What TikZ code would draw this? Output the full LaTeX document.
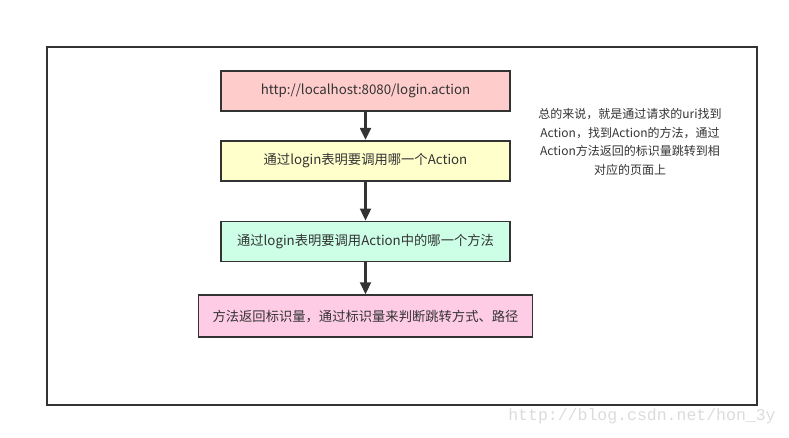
\documentclass[tikz,border=0pt]{standalone}
\usepackage{fontspec}
\setmainfont{Noto Sans CJK SC}
\newfontfamily\markfont{Liberation Mono}
\usetikzlibrary{arrows.meta, positioning}
\definecolor{framegray}{RGB}{51, 51, 51}
\definecolor{urlpink}{RGB}{255, 204, 204}
\definecolor{actionyellow}{RGB}{255, 255, 204}
\definecolor{methodgreen}{RGB}{204, 255, 230}
\definecolor{resultpink}{RGB}{255, 204, 230}

\begin{document}
\begin{tikzpicture}[
    x=1pt, y=-1pt,
    node distance=28pt,
    stepbox/.style={draw=framegray, line width=1.7pt, minimum width=289pt, minimum height=40pt, inner sep=0pt, align=center, text=framegray, font=\fontsize{13.3}{15}\selectfont},
    arrow/.style={-{Triangle[length=12pt, width=11pt]}, line width=2.2pt, draw=framegray}
]
\useasboundingbox (0,0) rectangle (789,438);

% outer frame
\draw[framegray, line width=1.7pt] (47,47) rectangle (757,405);

\node[stepbox, fill=urlpink] (url) at (365.5,91) {http://localhost:8080/login.action};
\node[stepbox, fill=actionyellow, below=28pt of url] (action) {通过login表明要调用哪一个Action};
\node[stepbox, fill=methodgreen, below=39pt of action] (method) {通过login表明要调用Action中的哪一个方法};
\node[stepbox, fill=resultpink, below=32pt of method, minimum width=334pt, minimum height=42pt] (result) {方法返回标识量，通过标识量来判断跳转方式、路径};

\draw[arrow] (url) -- (action);
\draw[arrow] (action) -- (method);
\draw[arrow] (method) -- (result);

% summary note
\node[align=center, font=\fontsize{12}{18.5}\selectfont, text=framegray] (note) at (630,142) {总的来说，就是通过请求的uri找到\\Action，找到Action的方法，通过\\Action方法返回的标识量跳转到相\\对应的页面上};

% watermark
\node[font=\markfont\fontsize{16.5}{18}\selectfont, text=black!14] (mark) at (642,416) {http://blog.csdn.net/hon\_3y};

\end{tikzpicture}
\end{document}
